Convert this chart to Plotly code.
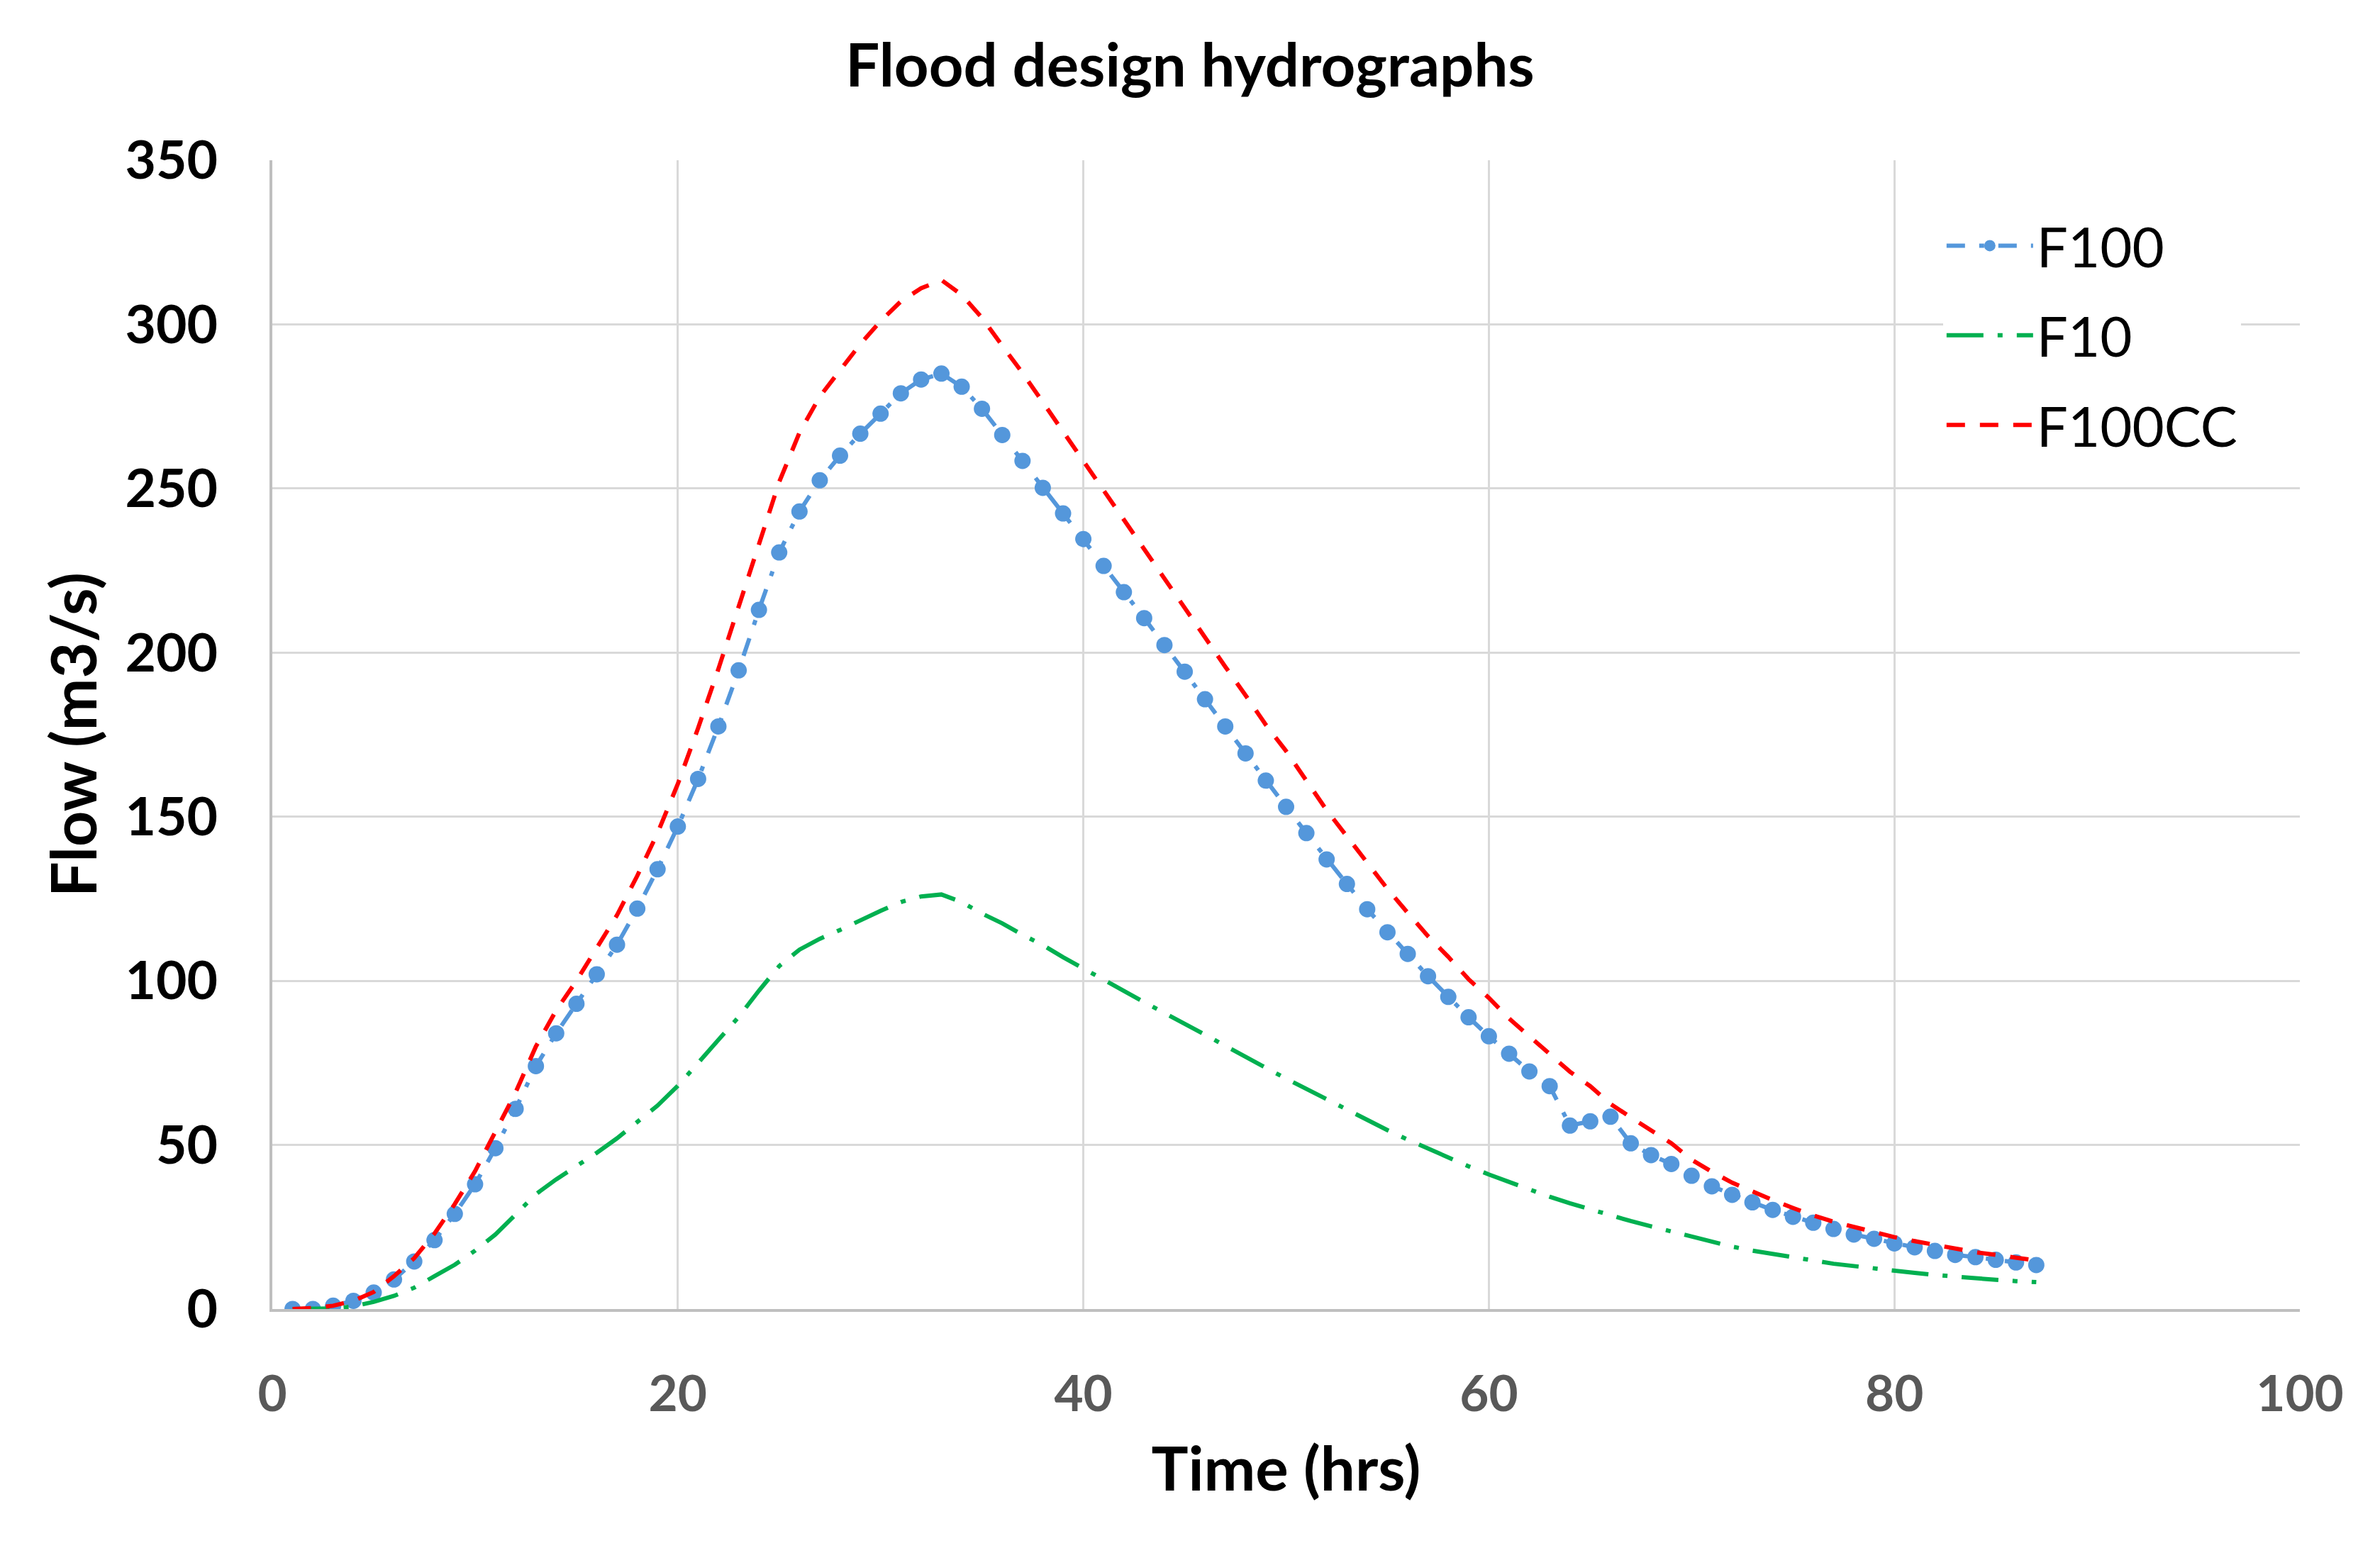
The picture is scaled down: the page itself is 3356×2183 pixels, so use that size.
import plotly.graph_objects as go

hours = list(range(1, 88))

f100 = [0, 0, 1, 2.5, 5, 9, 14.5, 21, 29, 38,
        49, 61, 74, 84, 93, 102, 111, 122, 134, 147,
        161.5, 177.5, 194.6, 213, 230.5, 243, 252.5, 260, 266.7, 272.8,
        279, 283.2, 285, 281, 274.3, 266.3, 258.4, 250.2, 242.4, 234.6,
        226.4, 218.4, 210.5, 202.3, 194.2, 185.8, 177.5, 169.3, 161, 153,
        145, 137, 129.5, 121.8, 114.8, 108.2, 101.4, 95.1, 88.9, 83.1,
        77.8, 72.4, 67.9, 55.9, 57.2, 58.6, 50.5, 46.9, 44.2, 40.6,
        37.4, 34.8, 32.5, 30.2, 28.1, 26.3, 24.4, 22.7, 21.4, 20,
        18.8, 17.7, 16.5, 15.8, 15, 14.2, 13.4]

f10 = [0, 0, 0.2, 0.8, 2.2, 4, 6.5, 10, 13.5, 17.8,
       22.7, 28.8, 35, 39.5, 43.5, 47.6, 52, 57, 62, 68,
       75, 82, 89, 97, 104.5, 109.5, 112.8, 115.5, 118.5, 121.3,
       124, 125.7, 126.3, 124, 120.5, 117.5, 114, 110.9, 107.2, 103.7,
       100.2, 96.8, 93.5, 90.2, 87, 83.6, 80.2, 76.7, 73.5, 70.2,
       67, 63.8, 60.6, 57.5, 54.5, 51.6, 48.8, 46, 43.5, 41,
       38.7, 36.4, 34.2, 32.2, 30.3, 28.5, 26.8, 25.2, 23.6, 22.1,
       20.5, 19, 17.8, 16.8, 15.7, 14.7, 13.8, 13.1, 12.3, 11.6,
       11, 10.4, 9.8, 9.3, 8.9, 8.5, 8.2]

f100cc = [0, 0.3, 1, 2.5, 5.2, 10, 15.5, 23, 32, 42,
          54, 66, 80, 91, 100, 110, 120, 132, 145, 160,
          177, 195, 214, 234, 252, 267, 278, 286, 294, 301,
          307, 311, 313.5, 309, 302, 293.5, 285.2, 276.3, 267.3, 258.4,
          249.4, 240.4, 231.4, 222.5, 213.5, 204.6, 195.7, 187, 178, 170,
          161, 152, 144, 136, 128, 120.7, 113.6, 107.3, 100.5, 94.8,
          88.5, 83.1, 77.7, 72.3, 67.9, 62.5, 58.4, 54.4, 50.5, 45.5,
          41.8, 38.5, 35.8, 33.2, 30.8, 28.5, 26.6, 25, 23.4, 21.9,
          20.7, 19.5, 18.3, 17.3, 16.5, 15.7, 14.8]

series_names = ["F100", "F10", "F100CC"]
x_ticks = [0, 20, 40, 60, 80, 100]
y_ticks = [0, 50, 100, 150, 200, 250, 300, 350]

FONT = "Lato"
BLUE = "#5497DB"
GREEN = "#00B050"
RED = "#FF0000"

fig = go.Figure()
fig.add_trace(go.Scatter(
    x=hours, y=f100, name=series_names[0], mode="lines+markers",
    line=dict(color=BLUE, width=6, dash="26px,20px,7px,20px"),
    marker=dict(color=BLUE, size=23, symbol="circle"),
    legendgroup="a"))
fig.add_trace(go.Scatter(
    x=hours, y=f10, name=series_names[1], mode="lines",
    line=dict(color=GREEN, width=6, dash="52px,20px,7px,20px"),
    legendgroup="b"))
fig.add_trace(go.Scatter(
    x=hours, y=f100cc, name=series_names[2], mode="lines",
    line=dict(color=RED, width=6, dash="26px,21px"),
    legendgroup="c"))

fig.update_layout(
    width=3356, height=2183, autosize=False,
    margin=dict(l=384, r=113, t=226, b=337, pad=0),
    paper_bgcolor="white", plot_bgcolor="white",
    title=dict(text="Flood design hydrographs", x=0.5, xref="container",
               y=1 - 92 / 2183, yref="container", yanchor="middle", xanchor="center",
               font=dict(family=FONT, size=85, color="black", weight="bold")),
    legend=dict(x=0.824, y=0.961, xanchor="left", yanchor="top",
                bgcolor="white", itemwidth=122, tracegroupgap=22,
                font=dict(family=FONT, size=78, color="black")),
    showlegend=True,
)

fig.update_xaxes(
    range=[0, 100], tickvals=x_ticks, ticktext=[str(v) for v in x_ticks],
    showgrid=True, gridcolor="#D9D9D9", gridwidth=3,
    showline=True, linecolor="#BFBFBF", linewidth=4,
    zeroline=False, ticks="", ticklabelstandoff=55,
    tickfont=dict(family=FONT, size=71, color="#595959", weight="bold"),
    title=dict(text="Time (hrs)", standoff=38,
               font=dict(family=FONT, size=87, color="black", weight="bold")))
fig.update_yaxes(
    range=[0, 350], tickvals=y_ticks, ticktext=[str(v) for v in y_ticks],
    showgrid=True, gridcolor="#D9D9D9", gridwidth=3,
    showline=True, linecolor="#BFBFBF", linewidth=4,
    zeroline=False, ticks="", ticklabelstandoff=58,
    tickfont=dict(family=FONT, size=75, color="black", weight="bold"),
    title=dict(text="Flow (m3/s)", standoff=12,
               font=dict(family=FONT, size=88, color="black", weight="bold")))

fig.write_html("out.html")
